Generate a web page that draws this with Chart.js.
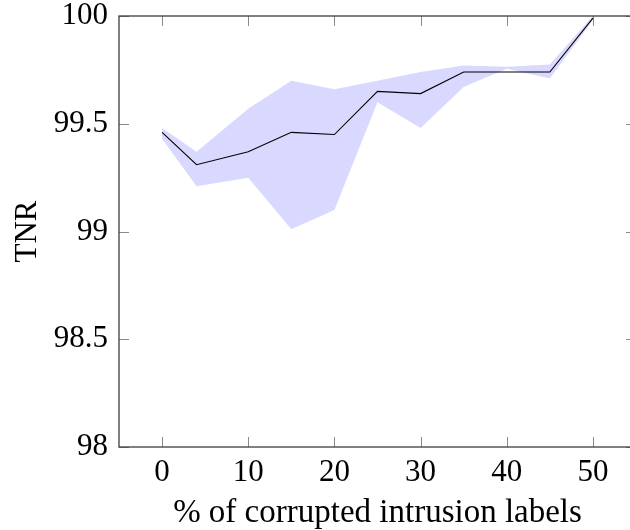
<!DOCTYPE html>
<html>
<head>
<meta charset="utf-8">
<script src="https://cdn.jsdelivr.net/npm/chart.js@4"></script>
<style>
  html, body { margin: 0; padding: 0; overflow: hidden; background: #fff; }
  #wrap { width: 640px; height: 530px; position: relative; }
</style>
</head>
<body>
<div id="wrap"><canvas id="c"></canvas></div>
<script>
const xValues  = [0, 4, 10, 15, 20, 25, 30, 35, 40, 45, 50];
const tnrMean  = [99.46, 99.31, 99.37, 99.46, 99.45, 99.65, 99.64, 99.74, 99.74, 99.74, 99.99];
const tnrUpper = [99.48, 99.37, 99.57, 99.70, 99.66, 99.70, 99.74, 99.77, 99.765, 99.775, 100];
const tnrLower = [99.43, 99.21, 99.25, 99.01, 99.10, 99.60, 99.48, 99.67, 99.755, 99.71, 99.98];
const xTicks = [0, 10, 20, 30, 40, 50];
const yTicks = [98, 98.5, 99, 99.5, 100];
const xLabel = '% of corrupted intrusion labels';
const yLabel = 'TNR';

const pts = arr => xValues.map((x, i) => ({ x: x, y: arr[i] }));
const FONT = "'Liberation Serif', 'Times New Roman', serif";

const frameTicks = {
  id: 'frameTicks',
  afterDraw(chart) {
    const { ctx, chartArea: a, scales } = chart;
    const tl = 10;
    ctx.save();
    ctx.strokeStyle = '#8a8a8a';
    ctx.lineWidth = 1;
    ctx.beginPath();
    xTicks.forEach(v => {
      const px = Math.round(scales.x.getPixelForValue(v)) + 0.5;
      ctx.moveTo(px, a.top); ctx.lineTo(px, a.top + tl);
      ctx.moveTo(px, a.bottom); ctx.lineTo(px, a.bottom - tl);
    });
    yTicks.forEach(v => {
      const py = Math.round(scales.y.getPixelForValue(v)) + 0.5;
      ctx.moveTo(a.left, py); ctx.lineTo(a.left + tl, py);
      ctx.moveTo(a.right, py); ctx.lineTo(a.right - tl, py);
    });
    ctx.stroke();
    ctx.strokeStyle = '#3c3c3c';
    ctx.lineWidth = 1.3;
    ctx.strokeRect(a.left, a.top, a.right - a.left, a.bottom - a.top);
    ctx.restore();
  }
};

new Chart(document.getElementById('c'), {
  type: 'line',
  data: {
    datasets: [
      { label: 'upper', data: pts(tnrUpper), borderWidth: 0, pointRadius: 0, order: 2,
        backgroundColor: 'rgb(217,217,255)', fill: '+1', tension: 0 },
      { label: 'lower', data: pts(tnrLower), borderWidth: 0, pointRadius: 0, order: 3,
        backgroundColor: 'rgb(217,217,255)', fill: false, tension: 0 },
      { label: 'TNR', data: pts(tnrMean), borderColor: '#000', borderWidth: 1.1, order: 0,
        pointRadius: 0, fill: false, tension: 0 }
    ]
  },
  options: {
    responsive: true,
    maintainAspectRatio: false,
    animation: false,
    layout: { padding: { top: 16, right: 4, left: 0, bottom: 0 } },
    plugins: { legend: { display: false }, tooltip: { enabled: false } },
    scales: {
      x: {
        type: 'linear', min: -5, max: 55,
        afterBuildTicks: s => { s.ticks = xTicks.map(v => ({ value: v })); },
        afterFit: s => { s.height = 83; s.paddingLeft = 0; s.paddingRight = 0; },
        grid: { display: false, drawTicks: false },
        border: { display: false },
        ticks: { color: '#000', padding: 7, maxRotation: 0,
                 callback: v => String(v),
                 font: { family: FONT, size: 31 } },
        title: { display: true, text: xLabel, color: '#000',
                 padding: { top: 0, bottom: 0 },
                 font: { family: FONT, size: 33, lineHeight: 1 } }
      },
      y: {
        type: 'linear', min: 98, max: 100,
        afterBuildTicks: s => { s.ticks = yTicks.map(v => ({ value: v })); },
        afterFit: s => { s.width = 119; s.paddingTop = 0; s.paddingBottom = 0; },
        grid: { display: false, drawTicks: false },
        border: { display: false },
        ticks: { color: '#000', padding: 11,
                 callback: v => String(v),
                 font: { family: FONT, size: 31 } },
        title: { display: true, text: yLabel, color: '#000',
                 padding: { top: 9, bottom: 0 },
                 font: { family: FONT, size: 31 } }
      }
    }
  },
  plugins: [frameTicks]
});
</script>
</body>
</html>
